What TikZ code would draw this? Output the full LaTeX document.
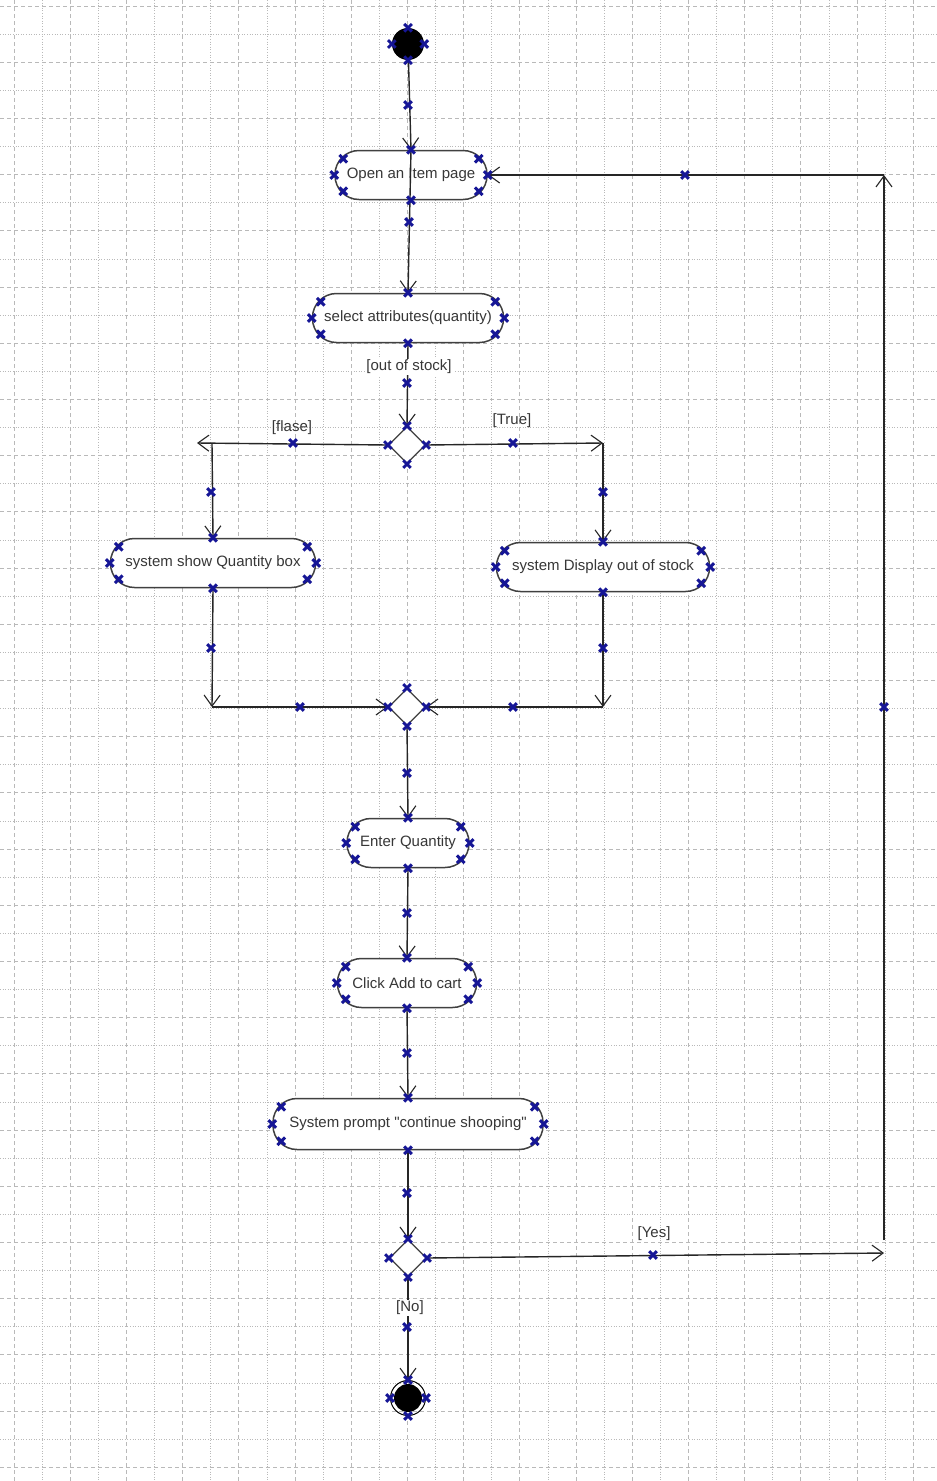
\documentclass[tikz,border=0pt]{standalone}
\usepackage{fontspec}
\setmainfont{Liberation Sans}[Ligatures=TeXOff]
\usetikzlibrary{arrows.meta,calc,shapes.geometric}
\definecolor{mkblue}{RGB}{22,22,150}
\definecolor{txt}{RGB}{55,55,55}
\definecolor{gridc}{RGB}{185,185,185}
\tikzset{
  mk/.pic={\draw[mkblue, line width=2.9pt] (-3.8,-3.8)--(3.8,3.8) (-3.8,3.8)--(3.8,-3.8);},
  act/.style={draw=black!75, line width=1.5pt, fill=white, rounded corners=24pt,
    minimum height=49pt, inner sep=0pt, text=txt, font=\fontsize{15}{18}\selectfont},
  dec/.style={draw=black!75, line width=1.2pt, fill=white, diamond,
    minimum width=37pt, minimum height=37pt, inner sep=0pt},
  flow/.style={draw=black!85, line width=1.4pt,
    -{Straight Barb[length=11pt,width=16pt,line width=1.1pt]}},
  lbl/.style={text=txt, font=\fontsize{15}{18}\selectfont, inner sep=1pt},
  lblw/.style={lbl, fill=white},
  gdash/.style={draw=gridc, line width=0.8pt, dash pattern=on 4pt off 3pt},
  gdot/.style={draw=gridc, line width=0.8pt, dash pattern=on 1pt off 1.6pt},
}
\newcommand\actmarks[1]{%
  \foreach \a in {north,south,east,west} {\pic at (#1.\a) {mk};}
  \pic at ($(#1.north west)+(9,9)$) {mk};
  \pic at ($(#1.north east)+(-9,9)$) {mk};
  \pic at ($(#1.south west)+(9,-9)$) {mk};
  \pic at ($(#1.south east)+(-9,-9)$) {mk};
}
\newcommand\fourmarks[1]{%
  \foreach \a in {north,south,east,west} {\pic at (#1.\a) {mk};}
}
\begin{document}
\begin{tikzpicture}[x=1pt,y=-1pt]
\useasboundingbox (0,0) rectangle (937,1481);
\fill[white] (0,0) rectangle (937,1481);
% grid
\foreach \k in {0,...,32}{
  \ifodd\k \def\gs{gdot}\else \def\gs{gdash}\fi
  \draw[\gs] ({14+28.1*\k},0) -- ({14+28.1*\k},1481);
}
\foreach \k in {0,...,52}{
  \ifodd\k \def\gs{gdot}\else \def\gs{gdash}\fi
  \draw[\gs] (0,{6+28.1*\k}) -- (937,{6+28.1*\k});
}
% nodes
\node[circle, fill=black, minimum size=32pt, inner sep=0pt] (start) at (408,44) {};
\node[act, minimum width=152pt] (open) at (411,175) {Open an Item page};
\node[act, minimum width=191pt] (select) at (408,318) {select attributes(quantity)};
\node[dec] (d1) at (407,445) {};
\node[act, minimum width=205pt] (qbox) at (213,563) {system show Quantity box};
\node[act, minimum width=213pt] (dbox) at (603,567) {system Display out of stock};
\node[dec] (d2) at (407,707) {};
\node[act, minimum width=122pt] (eq) at (408,843) {Enter Quantity};
\node[act, minimum width=139pt] (cart) at (407,983) {Click Add to cart};
\node[act, minimum width=270pt, minimum height=51pt] (prompt) at (408,1124) {System prompt "continue shooping"};
\node[dec] (d3) at (408,1258) {};
\node[circle, draw=black, line width=1pt, minimum size=35pt, inner sep=0pt] (end) at (408,1398) {};
\node[circle, fill=black, minimum size=28pt, inner sep=0pt] (endin) at (end.center) {};
% bend coordinates
\coordinate (fa) at (197,443);
\coordinate (fb) at (212,443);
\coordinate (tr) at (603,443);
\coordinate (qb) at (212,707);
\coordinate (db) at (603,707);
\coordinate (yb) at (884,1253);
\coordinate (yv) at (884,1240);
\coordinate (yt) at (884,175);
% connectors
\draw[flow] (start) -- (open.north);
\draw[flow] (open.north) -- (select.north);
\draw[flow] (select.south) -- (d1.north);
\draw[flow] (d1.west) -- (fa);
\draw[flow] (fb) -- (qbox.north);
\draw[flow] (d1.east) -- (tr);
\draw[flow] (tr) -- (dbox.north);
\draw[flow] (qbox.south) -- (qb);
\draw[flow] (qb) -- (d2.west);
\draw[flow] (dbox.south) -- (db);
\draw[flow] (db) -- (d2.east);
\draw[flow] (d2.south) -- (eq.north);
\draw[flow] (eq.south) -- (cart.north);
\draw[flow] (cart.south) -- (prompt.north);
\draw[flow] (prompt.south) -- (d3.north);
\draw[flow] (d3.south) -- (end.north);
\draw[flow] (d3.east) -- (yb);
\draw[flow] (yv) -- (yt);
\draw[flow] (yt) -- (open.east);
% labels
\node[lblw] (loos) at (409,367) {[out of stock]};
\node[lbl] (lfalse) at (292,428) {[flase]};
\node[lbl] (ltrue) at (512,421) {[True]};
\node[lbl] (lyes) at (654,1234) {[Yes]};
\node[lblw] (lno) at (410,1308) {[No]};
% selection markers
\fourmarks{start}
\fourmarks{end}
\fourmarks{d1}
\fourmarks{d2}
\fourmarks{d3}
\actmarks{open}
\actmarks{select}
\actmarks{qbox}
\actmarks{dbox}
\actmarks{eq}
\actmarks{cart}
\actmarks{prompt}
\foreach \p in {(408,105),(409,222),(407,383),(293,443),(513,443),(211,492),(603,492),
  (211,648),(603,648),(300,707),(513,707),(407,773),(407,913),(407,1053),(407,1193),
  (407,1327),(653,1255),(884,707),(685,175)} {\pic at \p {mk};}
\end{tikzpicture}
\end{document}
